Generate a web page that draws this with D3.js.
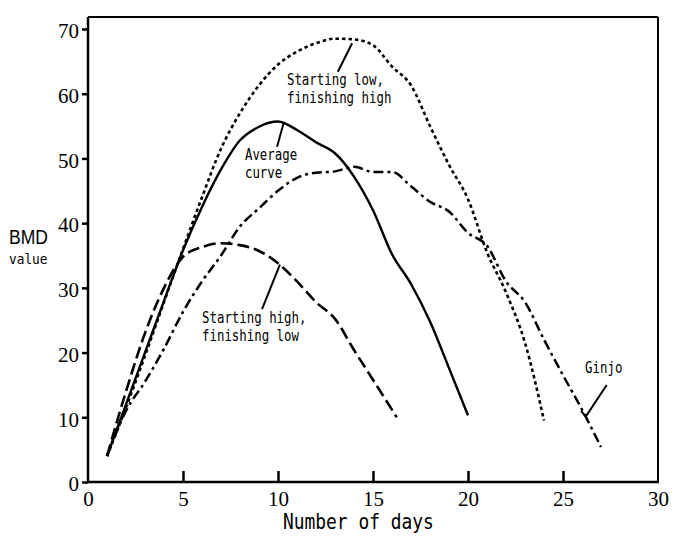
<!DOCTYPE html>
<html>
<head>
<meta charset="utf-8">
<script src="https://cdn.jsdelivr.net/npm/d3@7"></script>
<style>
  html, body { margin: 0; padding: 0; background: #fff; }
  svg { display: block; }
  .serif text { font-family: "Liberation Serif", "Times New Roman", serif; }
</style>
</head>
<body>
<svg id="chart" width="700" height="553"></svg>
<script>
// ---- data ----
const xTicks = [0, 5, 10, 15, 20, 25, 30];
const yTicks = [0, 10, 20, 30, 40, 50, 60, 70];

const averageCurve = [
  [1, 4], [2, 12], [3, 20], [4, 28], [5, 35.8], [6, 42.5], [7, 48.3], [8, 52.8],
  [9, 54.9], [10, 55.7], [11, 54.4], [12, 52.5], [13, 50.8], [14, 47.2], [15, 42],
  [16, 35.2], [17, 30.6], [18, 24.8], [19, 17.6], [20, 10.3]
];
const startLowFinishHigh = [
  [1, 4], [2, 11.5], [3, 19.5], [4, 27.8], [5, 36], [6, 44], [7, 51.5], [8, 57],
  [9, 61.3], [10, 64.5], [11, 66.5], [12, 67.8], [13, 68.5], [14, 68.4], [15, 67.5],
  [16, 64.2], [17, 61.3], [18, 55], [19, 49], [20, 43.7], [21, 35.5], [22, 29.3],
  [23, 21.5], [24, 9.5]
];
const startHighFinishLow = [
  [1, 4], [2, 14], [3, 23], [4, 30], [5, 34.8], [6, 36.3], [7, 36.9], [8, 36.6],
  [9, 35.7], [10, 33.8], [11, 31], [12, 27.8], [13, 25.2], [14, 20.4], [15, 15.8],
  [16.25, 10]
];
const ginjo = [
  [1, 4], [2, 11], [3, 15.5], [4, 20.6], [5, 26.3], [6, 31], [7, 35], [8, 39.5],
  [9, 42.3], [10, 45], [11, 47], [12, 47.8], [13, 48], [14, 48.7], [15, 47.9],
  [16, 47.9], [17, 45.7], [18, 43.3], [19, 41.8], [20, 38.5], [21, 36.5], [22, 31],
  [23, 27.8], [24, 22], [25, 16.5], [26, 11.2], [27, 5.4]
];

const seriesNames = ["Average curve", "Starting low, finishing high", "Starting high, finishing low", "Ginjo"];

// ---- layout ----
const svg = d3.select("#chart");
const x = d3.scaleLinear().domain([0, 30]).range([88, 658]);
const y = d3.scaleLinear().domain([0, 70]).range([482, 29]);
const frameTop = 17;

const series = [
  { name: seriesNames[0], data: averageCurve, dash: null, w: 2.4 },
  { name: seriesNames[1], data: startLowFinishHigh, dash: "3.5,3", w: 2.6 },
  { name: seriesNames[2], data: startHighFinishLow, dash: "12,5", w: 2.6 },
  { name: seriesNames[3], data: ginjo, dash: "10,4,3,4", w: 2.5 }
];

const line = d3.line()
  .x(d => x(d[0]))
  .y(d => y(d[1]))
  .curve(d3.curveMonotoneX);

svg.selectAll("path.series")
  .data(series)
  .join("path")
  .attr("class", "series")
  .attr("d", d => line(d.data))
  .attr("fill", "none")
  .attr("stroke", "#000")
  .attr("stroke-width", d => d.w)
  .attr("stroke-dasharray", d => d.dash)
  .attr("stroke-linejoin", "round");

// ---- frame ----
const frame = svg.append("g").attr("stroke", "#000").attr("fill", "none");
frame.append("line").attr("x1", x(0)).attr("x2", x(0)).attr("y1", frameTop).attr("y2", y(0)).attr("stroke-width", 2.5);
frame.append("line").attr("x1", x(0) - 1).attr("x2", x(30) + 1).attr("y1", y(0)).attr("y2", y(0)).attr("stroke-width", 2.5);
frame.append("line").attr("x1", x(0)).attr("x2", x(30)).attr("y1", frameTop).attr("y2", frameTop).attr("stroke-width", 2);
frame.append("line").attr("x1", x(30)).attr("x2", x(30)).attr("y1", frameTop).attr("y2", y(0)).attr("stroke-width", 2);

// ---- axes ----
const yAxis = d3.axisLeft(y).tickValues(yTicks).tickSize(6).tickPadding(3).tickFormat(d3.format("d"));
const gy = svg.append("g").attr("class", "serif").attr("transform", `translate(${x(0)},0)`).call(yAxis);
gy.attr("font-family", null);
gy.select(".domain").remove();
gy.selectAll(".tick line").attr("stroke-width", 2.5);
gy.selectAll(".tick text")
  .style("font-family", "'Liberation Serif', 'Times New Roman', serif")
  .style("font-size", "21px")
  .attr("fill", "#000")
  .attr("dy", "0.42em");

const xAxis = d3.axisBottom(x).tickValues(xTicks).tickSize(0).tickPadding(9).tickFormat(d3.format("d"));
const gx = svg.append("g").attr("class", "serif").attr("transform", `translate(0,${y(0)})`).call(xAxis);
gx.attr("font-family", null);
gx.select(".domain").remove();
gx.selectAll(".tick text")
  .style("font-family", "'Liberation Serif', 'Times New Roman', serif")
  .style("font-size", "21px")
  .attr("fill", "#000")
  .attr("dy", "0.7em");
// inward ticks on x axis (not at 0 and 30)
gx.selectAll(".tick").filter(d => d > 0 && d < 30)
  .append("line").attr("y1", 0).attr("y2", -11).attr("stroke", "#000").attr("stroke-width", 2.5);

// ---- text helper (tall, narrow gothic-like text) ----
function tallText(px, py, str, size, sy, family) {
  svg.append("text")
    .attr("transform", `translate(${px},${py}) scale(1,${sy})`)
    .style("font-family", family || "'DejaVu Sans Mono', monospace")
    .style("font-size", size + "px")
    .attr("fill", "#000")
    .text(str);
}

// axis titles
tallText(283, 529, "Number of days", 17.9, 1.14);
tallText(9, 244, "BMD", 17.5, 1.17, "'Liberation Sans', Arial, sans-serif");
tallText(9, 264, "value", 12.8, 1.15);

// ---- annotations (data coordinates) ----
const annotations = [
  { lines: ["Starting low,", "finishing high"], at: [10.47, 61.4], lead: [[13.9, 67.8], [13.15, 63.4]] },
  { lines: ["Average", "curve"], at: [8.26, 49.8], lead: [[10.3, 55.5], [9.95, 51.8]] },
  { lines: ["Starting high,", "finishing low"], at: [6.0, 24.6], lead: [[10.1, 33.6], [9.16, 26.7]] },
  { lines: ["Ginjo"], at: [26.16, 16.8], lead: [[27.3, 15], [26.2, 10.1], [25.95, 11.0]] }
];
const lead = d3.line().x(d => x(d[0])).y(d => y(d[1]));
annotations.forEach(a => {
  a.lines.forEach((t, i) => tallText(x(a.at[0]), y(a.at[1]) + i * 18.5, t, 12.4, 1.28));
  svg.append("path").attr("d", lead(a.lead)).attr("fill", "none")
    .attr("stroke", "#000").attr("stroke-width", 2);
});
</script>
</body>
</html>
